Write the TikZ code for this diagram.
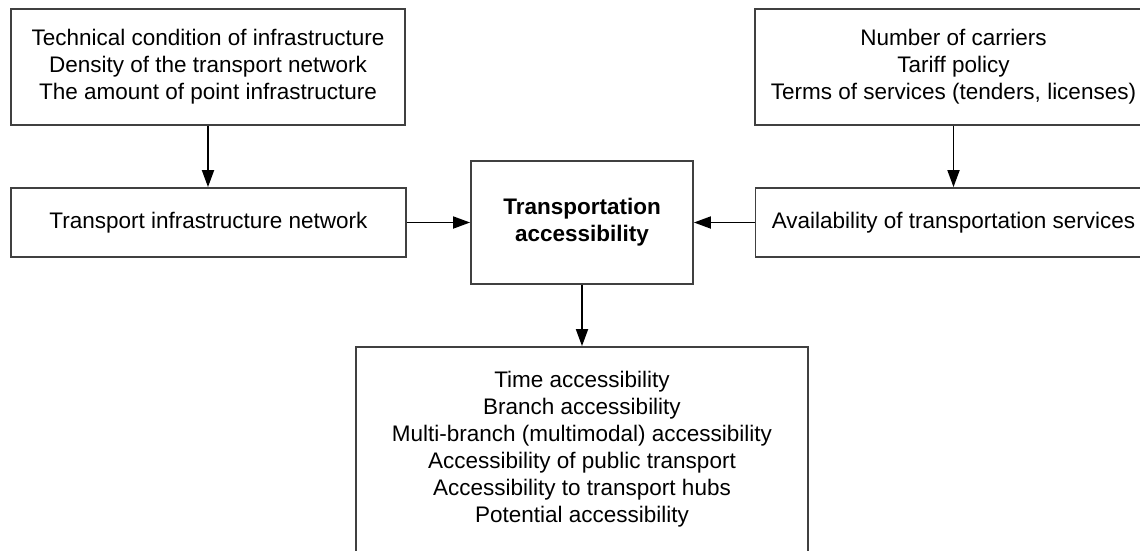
\documentclass[tikz,border=0pt]{standalone}
\usepackage{fontspec}
\setmainfont{Liberation Sans}
\usetikzlibrary{arrows.meta}
\begin{document}
\begin{tikzpicture}[x=1pt,y=-1pt,
  box/.style={draw=black!75,line width=1.8pt,rectangle,inner sep=0pt,align=center,
    font=\fontsize{22.5}{27}\selectfont},
  conn/.style={line width=1.8pt,-{Triangle[length=17pt,width=12pt]}}]
\useasboundingbox (0,0) rectangle (1140,550);
\clip (0,0) rectangle (1140,550);
\node[box,minimum width=394pt,minimum height=116pt] (tl) at (208,67)
  {Technical condition of infrastructure\\Density of the transport network\\The amount of point infrastructure};
\node[box,minimum width=397pt,minimum height=116pt] (tr) at (953.5,67)
  {Number of carriers\\Tariff policy\\Terms of services (tenders, licenses)};
\node[box,minimum width=395pt,minimum height=69pt] (ml) at (208.5,222.5)
  {Transport infrastructure network};
\node[box,minimum width=222pt,minimum height=123pt] (c) at (582,222.5)
  {\bfseries Transportation\\\bfseries accessibility};
\node[box,minimum width=396pt,minimum height=69pt] (mr) at (953.5,222.5)
  {Availability of transportation services};
\node[box,minimum width=452pt,minimum height=205pt] (b) at (582,449.5)
  {Time accessibility\\Branch accessibility\\Multi-branch (multimodal) accessibility\\Accessibility of public transport\\Accessibility to transport hubs\\Potential accessibility};
\draw[conn] (tl.south) -- (tl.south |- ml.north);
\draw[conn] (tr.south) -- (mr.north);
\draw[conn] (ml.east) -- (c.west);
\draw[conn] (mr.west) -- (c.east);
\draw[conn] (c.south) -- (b.north);
\end{tikzpicture}
\end{document}
